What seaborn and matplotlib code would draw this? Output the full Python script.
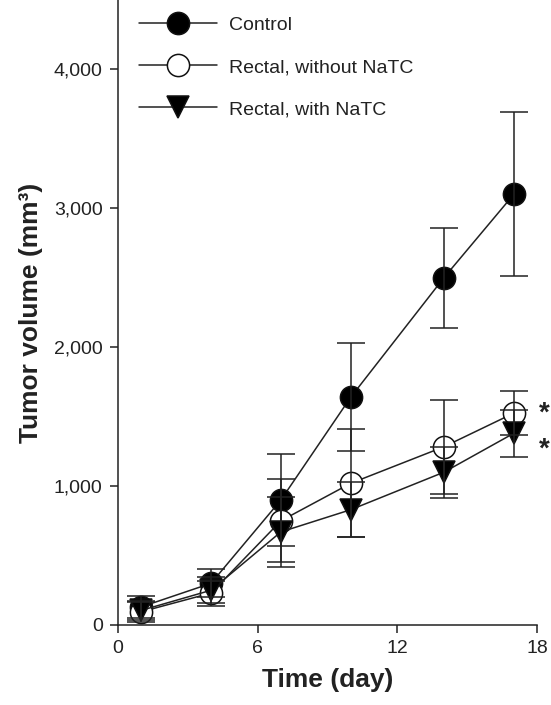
import numpy as np
import pandas as pd
import matplotlib
matplotlib.use("Agg")
import matplotlib.pyplot as plt
import seaborn as sns

days = [1, 4, 7, 10, 14, 17]
control_mean = [130, 300, 900, 1640, 2500, 3100]
control_err = [80, 100, 330, 390, 360, 590]
without_mean = [95, 230, 750, 1020, 1283, 1525]
without_err = [70, 90, 300, 390, 340, 160]
with_mean = [105, 250, 670, 830, 1100, 1380]
with_err = [70, 95, 250, 200, 185, 170]
groups = ["Control", "Rectal, without NaTC", "Rectal, with NaTC"]
x_ticks = [0, 6, 12, 18]
y_ticks = [0, 1000, 2000, 3000, 4000]
y_tick_labels = ["0", "1,000", "2,000", "3,000", "4,000"]

sns.set_theme(style="ticks")
plt.rcParams["font.family"] = ["Liberation Sans", "DejaVu Sans"]

df = pd.DataFrame({
    "day": days * 3,
    "vol": control_mean + without_mean + with_mean,
    "err": control_err + without_err + with_err,
    "group": [groups[0]] * 6 + [groups[1]] * 6 + [groups[2]] * 6,
})

fig = plt.figure(figsize=(5.51, 7.05), dpi=100)
ax = fig.add_axes([0.214, 0.1135, 0.7606, 0.8865])

markers = {groups[0]: "o", groups[1]: "o", groups[2]: "v"}
face = {groups[0]: "black", groups[1]: "white", groups[2]: "black"}

handles = []
for g in groups:
    sub = df[df.group == g]
    sns.lineplot(data=sub, x="day", y="vol", ax=ax, color="#222222", lw=1.1,
                 marker=markers[g], markersize=16, markerfacecolor=face[g],
                 markeredgecolor="#111111", markeredgewidth=1.1,
                 errorbar=None, legend=False, zorder=2)
    ax.errorbar(sub.day, sub.vol, yerr=sub.err, fmt="none", ecolor="#222222",
                elinewidth=1.1, capsize=10, capthick=1.1, zorder=3)
    h, = ax.plot([], [], color="#222222", lw=1.1, marker=markers[g], markersize=16,
                 markerfacecolor=face[g], markeredgecolor="#111111",
                 markeredgewidth=1.1, label=g)
    handles.append(h)

ax.set_xlim(0, 18)
ax.set_ylim(0, 4500)
ax.set_xticks(x_ticks)
ax.set_yticks(y_ticks)
ax.set_yticklabels(y_tick_labels)
for s in ["top", "right"]:
    ax.spines[s].set_visible(False)
for s in ["left", "bottom"]:
    ax.spines[s].set_linewidth(1.1)
    ax.spines[s].set_color("#222222")
ax.tick_params(axis="both", direction="out", length=6, width=1.1, color="#222222",
               labelsize=14, labelcolor="#222222", pad=5)
ax.set_xlabel("Time (day)", fontsize=19, fontweight="bold", color="#222222", labelpad=8)
ax.set_ylabel("Tumor volume (mm³)", fontsize=19, fontweight="bold", color="#222222", labelpad=8)

ax.legend(handles=handles, loc="upper left", bbox_to_anchor=(0.023, 0.992),
          frameon=False, fontsize=14, handlelength=4.0, handletextpad=0.6,
          labelspacing=1.25, borderaxespad=0.2, labelcolor="#222222")

ax.text(18.33, 1525, "*", fontsize=20, fontweight="bold", ha="center", va="center",
        clip_on=False, color="#222222")
ax.text(18.33, 1265, "*", fontsize=20, fontweight="bold", ha="center", va="center",
        clip_on=False, color="#222222")

fig.savefig("out.png", dpi=100)
